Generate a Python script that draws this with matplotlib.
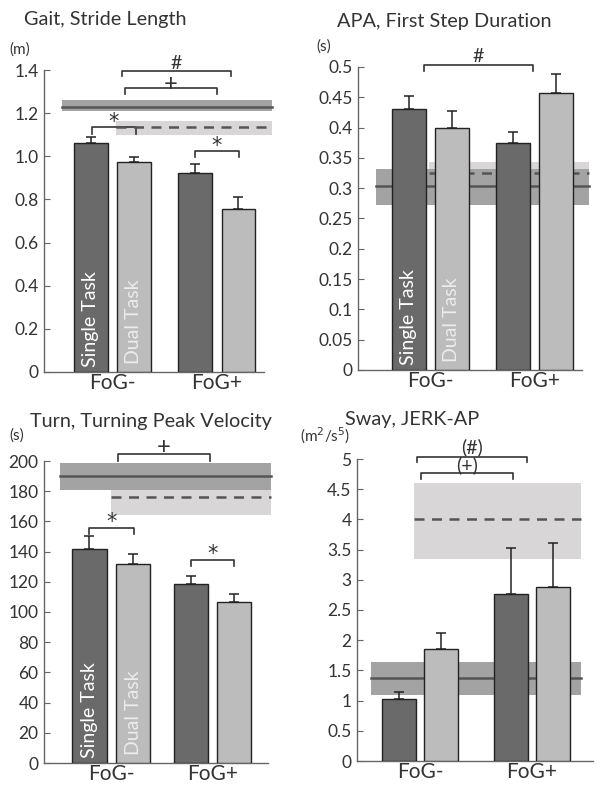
import matplotlib.pyplot as plt

plt.rcParams['font.family'] = ['Lato', 'DejaVu Sans']

groups = ["FoG-", "FoG+"]

# Gait, stride length (m)
stride_single = [1.06, 0.922]
stride_single_err = [0.03, 0.042]
stride_dual = [0.973, 0.756]
stride_dual_err = [0.025, 0.055]
stride_ctrl_st = [1.23, 1.21, 1.26]     # mean, low, high
stride_ctrl_dt = [1.135, 1.10, 1.165]
stride_ticks = [0, 0.2, 0.4, 0.6, 0.8, 1.0, 1.2, 1.4]
stride_labels = ["0", "0.2", "0.4", "0.6", "0.8", "1.0", "1.2", "1.4"]

# APA, first step duration (s)
apa_single = [0.431, 0.375]
apa_single_err = [0.021, 0.018]
apa_dual = [0.40, 0.457]
apa_dual_err = [0.027, 0.031]
apa_ctrl_st = [0.304, 0.272, 0.332]
apa_ctrl_dt = [0.325, 0.272, 0.343]
apa_ticks = [0, 0.05, 0.1, 0.15, 0.2, 0.25, 0.3, 0.35, 0.4, 0.45, 0.5]
apa_labels = ["0", "0.05", "0.1", "0.15", "0.2", "0.25", "0.3", "0.35", "0.4", "0.45", "0.5"]

# Turn, turning peak velocity
turn_single = [141.7, 118.5]
turn_single_err = [8.5, 5.5]
turn_dual = [131.8, 106.6]
turn_dual_err = [6.5, 5.0]
turn_ctrl_st = [190, 180.8, 198.7]
turn_ctrl_dt = [176, 164, 187]
turn_ticks = [0, 20, 40, 60, 80, 100, 120, 140, 160, 180, 200]
turn_labels = [str(t) for t in turn_ticks]

# Sway, JERK-AP
sway_single = [1.03, 2.76]
sway_single_err = [0.11, 0.77]
sway_dual = [1.855, 2.88]
sway_dual_err = [0.27, 0.73]
sway_ctrl_st = [1.37, 1.09, 1.64]
sway_ctrl_dt = [4.0, 3.34, 4.6]
sway_ticks = [0, 0.5, 1, 1.5, 2, 2.5, 3, 3.5, 4, 4.5, 5]
sway_labels = ["0", "0.5", "1", "1.5", "2", "2.5", "3", "3.5", "4", "4.5", "5"]

W, H = 604, 794
DARK = "#6a6a6a"
LIGHT = "#bcbcbc"
BAND_DARK = "#a3a3a3"
BAND_LIGHT = "#d8d6d6"
LINE = "#555555"
AXC = "#666666"
TXT = "#333333"
TITLE_FS = 14.3


def make_ax(fig, left, right, top, bottom):
    return fig.add_axes([left / W, 1 - bottom / H, (right - left) / W, (bottom - top) / H])


def bracket(ax, x0, x1, y, drop, label, ly, fs=14):
    ax.plot([x0, x0, x1, x1], [y - drop, y, y, y - drop], color=TXT, lw=1.2, clip_on=False)
    ax.text((x0 + x1) / 2, ly, label, ha="center", va="center", fontsize=fs, color=TXT, clip_on=False)


def star(ax, x0, x1, y, drop, ly):
    ax.plot([x0, x0, x1, x1], [y - drop, y, y, y - drop], color=TXT, lw=1.2, clip_on=False)
    ax.text((x0 + x1) / 2, ly, "*", ha="center", va="center", fontsize=15, color=TXT,
            family="DejaVu Sans", clip_on=False)


def panel(ax, single, single_err, dual, dual_err, ctrl_st, ctrl_dt, st_x, dt_x, xlim, ymax,
          ticks, labels, off, width, bar_text=True):
    # control bands (dashed = dual task, solid = single task)
    ax.fill_between(dt_x, ctrl_dt[1], ctrl_dt[2], color=BAND_LIGHT, lw=0, zorder=1, clip_on=False)
    ax.fill_between(st_x, ctrl_st[1], ctrl_st[2], color=BAND_DARK, lw=0, zorder=2, clip_on=False)
    ax.plot(st_x, [ctrl_st[0]] * 2, color=LINE, lw=1.8, zorder=3, clip_on=False)
    ax.plot(dt_x, [ctrl_dt[0]] * 2, color=LINE, lw=1.8, ls=(0, (4, 3)), zorder=3, clip_on=False)

    xs = [1 - off, 2 - off]
    xd = [1 + off, 2 + off]
    ax.bar(xs, single, width, color=DARK, edgecolor="#222222", lw=1, zorder=4)
    ax.bar(xd, dual, width, color=LIGHT, edgecolor="#222222", lw=1, zorder=4)
    ax.errorbar(xs, single, yerr=[[0, 0], single_err], fmt="none", ecolor="#222222",
                elinewidth=1.1, capsize=3.5, capthick=1.1, zorder=5)
    ax.errorbar(xd, dual, yerr=[[0, 0], dual_err], fmt="none", ecolor="#222222",
                elinewidth=1.1, capsize=3.5, capthick=1.1, zorder=5)

    if bar_text:
        ax.text(xs[0], ymax * 0.015, "Single Task", rotation=90, ha="center", va="bottom",
                color="white", fontsize=14, zorder=6)
        ax.text(xd[0], ymax * 0.025, "Dual Task", rotation=90, ha="center", va="bottom",
                color="#ececec", fontsize=14, zorder=6)

    ax.set_xlim(xlim)
    ax.set_ylim(0, ymax)
    ax.set_xticks([1, 2])
    ax.set_xticklabels(groups, fontsize=15, color=TXT)
    ax.set_yticks(ticks)
    ax.set_yticklabels(labels, fontsize=12.5, color=TXT)
    ax.tick_params(axis="y", direction="in", length=4, color=AXC, pad=4)
    ax.tick_params(axis="x", length=0, pad=1)
    for s in ["top", "right"]:
        ax.spines[s].set_visible(False)
    for s in ["left", "bottom"]:
        ax.spines[s].set_color(AXC)
        ax.spines[s].set_linewidth(1)


fig = plt.figure(figsize=(W / 100, H / 100), dpi=100)

# Gait
ax1 = make_ax(fig, 44, 264, 70, 372)
panel(ax1, stride_single, stride_single_err, stride_dual, stride_dual_err,
      stride_ctrl_st, stride_ctrl_dt, [0.517, 2.526], [1.033, 2.526], (0.345, 2.45), 1.4,
      stride_ticks, stride_labels, 0.206, 0.325)
bracket(ax1, 1.091, 2.134, 1.395, 0.025, "#", 1.43)
bracket(ax1, 1.12, 2.0, 1.317, 0.027, "+", 1.335, fs=17)
star(ax1, 0.804, 1.225, 1.136, 0.033, 1.16)
star(ax1, 1.79, 2.21, 1.025, 0.028, 1.05)
fig.text(24 / W, 1 - 20 / H, "Gait, Stride Length", fontsize=TITLE_FS, color=TXT, va="center")
fig.text(9 / W, 1 - 50 / H, "(m)", fontsize=11, color=TXT, va="center")

# APA
ax2 = make_ax(fig, 358, 582, 67, 370)
panel(ax2, apa_single, apa_single_err, apa_dual, apa_dual_err,
      apa_ctrl_st, apa_ctrl_dt, [0.48, 2.513], [0.986, 2.513], (0.31, 2.45), 0.5,
      apa_ticks, apa_labels, 0.205, 0.325)
bracket(ax2, 0.938, 1.98, 0.503, 0.01, "#", 0.518)
fig.text(337 / W, 1 - 22 / H, "APA, First Step Duration", fontsize=TITLE_FS, color=TXT, va="center")
fig.text(316 / W, 1 - 47 / H, "(s)", fontsize=11, color=TXT, va="center")

# Turn
ax3 = make_ax(fig, 44, 268, 461, 763)
panel(ax3, turn_single, turn_single_err, turn_dual, turn_dual_err,
      turn_ctrl_st, turn_ctrl_dt, [0.494, 2.578], [0.997, 2.578], (0.336, 2.548), 200,
      turn_ticks, turn_labels, 0.215, 0.34)
bracket(ax3, 1.067, 1.975, 204.6, 4.6, "+", 209, fs=17)
star(ax3, 0.78, 1.225, 155.6, 4.0, 159.5)
star(ax3, 1.788, 2.212, 134.4, 4.0, 138.5)
fig.text(30 / W, 1 - 422 / H, "Turn, Turning Peak Velocity", fontsize=TITLE_FS, color=TXT, va="center")
fig.text(9 / W, 1 - 436 / H, "(s)", fontsize=11, color=TXT, va="center")

# Sway
ax4 = make_ax(fig, 357, 593, 459, 761)
panel(ax4, sway_single, sway_single_err, sway_dual, sway_dual_err,
      sway_ctrl_st, sway_ctrl_dt, [0.561, 2.44], [0.946, 2.44], (0.436, 2.548), 5,
      sway_ticks, sway_labels, 0.188, 0.30, bar_text=False)
bracket(ax4, 0.973, 1.957, 5.03, 0.08, "(#)", 5.2)
bracket(ax4, 1.009, 1.832, 4.77, 0.1, "(+)", 4.9)
fig.text(345 / W, 1 - 420 / H, "Sway, JERK-AP", fontsize=TITLE_FS, color=TXT, va="center")
fig.text(300 / W, 1 - 436 / H, r"(m$^2$/s$^5$)", fontsize=11, color=TXT, va="center")

fig.savefig("out.png", dpi=100)
